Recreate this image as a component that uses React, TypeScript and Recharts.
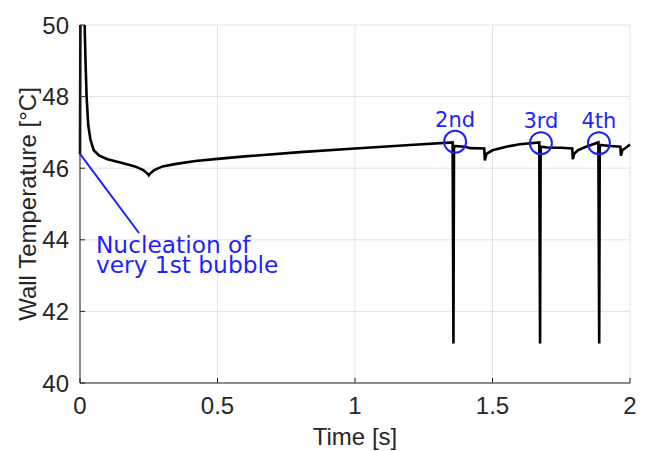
import {
  LineChart,
  Line,
  XAxis,
  YAxis,
  CartesianGrid,
  ReferenceDot,
  ReferenceLine,
} from "recharts";

document.body.style.margin = "0";

// wall temperature trace, time in seconds
const time = [
  0, 0.002, 0.008, 0.016, 0.02, 0.024, 0.03, 0.038, 0.05, 0.07, 0.1, 0.15,
  0.2, 0.23, 0.245, 0.25, 0.255, 0.27, 0.3, 0.35, 0.42, 0.5, 0.6, 0.8, 1.0,
  1.2, 1.355, 1.358, 1.36, 1.4, 1.42, 1.47, 1.472, 1.478, 1.5, 1.55, 1.6,
  1.67, 1.673, 1.675, 1.7, 1.75, 1.79, 1.792, 1.797, 1.81, 1.84, 1.885,
  1.888, 1.89, 1.93, 1.965, 1.967, 1.972, 1.99, 2.0,
];
const temp = [
  46.4, 52, 53, 50.3, 49, 48, 47.2, 46.8, 46.5, 46.35, 46.25, 46.15, 46.05,
  45.95, 45.85, 45.8, 45.85, 45.95, 46.05, 46.12, 46.2, 46.26, 46.33, 46.45,
  46.55, 46.65, 46.72, 41.1, 46.62, 46.6, 46.56, 46.55, 46.22, 46.4, 46.5,
  46.6, 46.67, 46.72, 41.1, 46.6, 46.58, 46.57, 46.55, 46.25, 46.4, 46.5,
  46.6, 46.72, 41.1, 46.65, 46.62, 46.6, 46.35, 46.5, 46.6, 46.66,
];

const xTicks = [0, 0.5, 1, 1.5, 2];
const yTicks = [40, 42, 44, 46, 48, 50];

// bubble departures marked on the trace
const bubbleLabels = ["2nd", "3rd", "4th"];
const bubbleTime = [1.364, 1.676, 1.887];
const bubbleTemp = [46.74, 46.7, 46.7];

const nucleationLines = ["Nucleation of", "very 1st bubble"];

const data = time.map((t, i) => ({ t, T: temp[i] }));

const AXIS = "#262626";
const BLUE = "#1f1fff";
const axisFont = "Liberation Sans, Arial, sans-serif";
const noteFont = "DejaVu Sans, Verdana, sans-serif";
const tickFont = { fill: AXIS, fontSize: 24, fontFamily: axisFont };

export default function App() {
  return (
    <LineChart
      width={646}
      height={451}
      data={data}
      margin={{ top: 25, right: 16, bottom: 0, left: 0 }}
    >
      <CartesianGrid stroke="#e3e3e3" strokeWidth={1} />
      <XAxis
        dataKey="t"
        type="number"
        domain={[0, 2]}
        ticks={xTicks}
        height={68}
        stroke={AXIS}
        tick={tickFont}
        tickSize={-5}
        tickMargin={19}
        label={{
          value: "Time [s]",
          position: "insideBottom",
          offset: 6,
          fill: AXIS,
          fontSize: 24,
          fontFamily: axisFont,
        }}
      />
      <XAxis
        xAxisId="top"
        orientation="top"
        type="number"
        domain={[0, 2]}
        ticks={xTicks}
        height={0}
        stroke={AXIS}
        tick={false}
        tickSize={-5}
      />
      <YAxis
        type="number"
        domain={[40, 50]}
        ticks={yTicks}
        allowDataOverflow
        width={80}
        stroke={AXIS}
        tick={tickFont}
        tickSize={-5}
        tickMargin={16}
        label={{
          value: "Wall Temperature [°C]",
          angle: -90,
          position: "insideLeft",
          offset: 27,
          fill: AXIS,
          fontSize: 24,
          fontFamily: axisFont,
          style: { textAnchor: "middle" },
        }}
      />
      <YAxis
        yAxisId="right"
        orientation="right"
        type="number"
        domain={[40, 50]}
        ticks={yTicks}
        width={0}
        stroke={AXIS}
        tick={false}
        tickSize={-5}
      />
      <Line
        dataKey="T"
        type="linear"
        stroke="#000"
        strokeWidth={2.6}
        dot={false}
        isAnimationActive={false}
      />
      <ReferenceLine
        segment={[
          { x: 0, y: 46.4 },
          { x: 0.2145, y: 44.19 },
        ]}
        stroke={BLUE}
        strokeWidth={2}
      />
      <ReferenceDot
        x={0.058}
        y={43.63}
        r={0}
        stroke="none"
        label={{
          content: ({ viewBox }: any) => (
            <text
              x={viewBox.x}
              y={viewBox.y}
              fill={BLUE}
              fontSize={23.3}
              fontFamily={noteFont}
            >
              {nucleationLines.map((s, i) => (
                <tspan key={s} x={viewBox.x} dy={i === 0 ? 0 : 20}>
                  {s}
                </tspan>
              ))}
            </text>
          ),
        }}
      />
      {bubbleLabels.map((name, i) => (
        <ReferenceDot
          key={name}
          x={bubbleTime[i]}
          y={bubbleTemp[i]}
          r={11}
          fill="none"
          stroke={BLUE}
          strokeWidth={2}
          label={{
            value: name,
            position: "top",
            offset: 4,
            fill: BLUE,
            fontSize: 21,
            fontFamily: noteFont,
          }}
        />
      ))}
    </LineChart>
  );
}
